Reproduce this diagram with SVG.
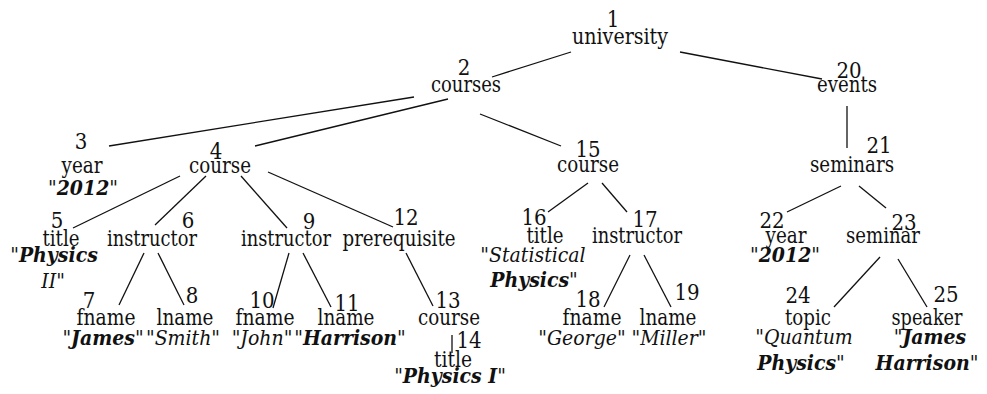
<svg xmlns="http://www.w3.org/2000/svg" width="987" height="394" viewBox="0 0 987 394">
<style>
text{font-family:"DejaVu Serif Condensed","DejaVu Serif",serif;font-stretch:condensed;font-size:22px;fill:#111;text-anchor:middle}
text.m{font-size:21px}
.i{font-style:italic}
.b{font-style:italic;font-weight:bold}
.e line{stroke:#111;stroke-width:1.3}
</style>
<rect width="987" height="394" fill="#fff"/>
<g class="e" id="edges">
<line x1="571" y1="52" x2="492" y2="77"/>
<line x1="680" y1="52" x2="822" y2="79"/>
<line x1="414" y1="97" x2="109" y2="146"/>
<line x1="448" y1="99" x2="255" y2="146"/>
<line x1="480" y1="114" x2="561" y2="146"/>
<line x1="847" y1="106" x2="847" y2="148"/>
<line x1="180" y1="176" x2="73" y2="228"/>
<line x1="206" y1="176" x2="155" y2="225"/>
<line x1="241" y1="176" x2="287" y2="228"/>
<line x1="268" y1="172" x2="393" y2="227"/>
<line x1="144" y1="253" x2="119" y2="305"/>
<line x1="158" y1="253" x2="184" y2="305"/>
<line x1="289" y1="253" x2="273" y2="308"/>
<line x1="303" y1="253" x2="331" y2="307"/>
<line x1="406" y1="253" x2="433" y2="306"/>
<line x1="452" y1="335" x2="452" y2="353"/>
<line x1="588" y1="183" x2="548" y2="212"/>
<line x1="602" y1="183" x2="627" y2="212"/>
<line x1="630" y1="255" x2="604" y2="307"/>
<line x1="644" y1="255" x2="671" y2="307"/>
<line x1="841" y1="186" x2="787" y2="212"/>
<line x1="859" y1="186" x2="886" y2="208"/>
<line x1="880" y1="257" x2="834" y2="307"/>
<line x1="898" y1="259" x2="927" y2="307"/>
</g>
<g id="n1"><text x="613" y="27">1</text><text x="620" y="44" textLength="96" lengthAdjust="spacingAndGlyphs">university</text></g>
<g id="n2"><text x="464" y="75">2</text><text x="466" y="92" textLength="70" lengthAdjust="spacingAndGlyphs">courses</text></g>
<g id="n20"><text x="849" y="78">20</text><text x="847" y="92" textLength="60" lengthAdjust="spacingAndGlyphs">events</text></g>
<g id="n21"><text x="879" y="153">21</text><text x="852" y="172" textLength="84" lengthAdjust="spacingAndGlyphs">seminars</text></g>
<g id="n3"><text x="81" y="149">3</text><text x="82" y="173" textLength="41" lengthAdjust="spacingAndGlyphs">year</text><text class="m" x="83" y="195">"<tspan class="b">2012</tspan>"</text></g>
<g id="n4"><text x="216" y="159">4</text><text x="220" y="173" textLength="62" lengthAdjust="spacingAndGlyphs">course</text></g>
<g id="n15"><text x="588" y="157">15</text><text x="588" y="172" textLength="62" lengthAdjust="spacingAndGlyphs">course</text></g>
<g id="n5"><text x="57" y="228">5</text><text x="61" y="246" textLength="37" lengthAdjust="spacingAndGlyphs">title</text><text class="m" x="54" y="262">"<tspan class="b">Physics</tspan></text><text class="m" x="53" y="288"><tspan class="i">II</tspan>"</text></g>
<g id="n6"><text x="188" y="228">6</text><text x="152" y="246" textLength="90" lengthAdjust="spacingAndGlyphs">instructor</text></g>
<g id="n9"><text x="309" y="229">9</text><text x="286" y="246" textLength="90" lengthAdjust="spacingAndGlyphs">instructor</text></g>
<g id="n12"><text x="406" y="225">12</text><text x="399" y="246" textLength="113" lengthAdjust="spacingAndGlyphs">prerequisite</text></g>
<g id="n7"><text x="89" y="308">7</text><text x="106" y="325" textLength="59" lengthAdjust="spacingAndGlyphs">fname</text><text class="m" x="103" y="345">"<tspan class="b">James</tspan>"</text></g>
<g id="n8"><text x="192" y="303">8</text><text x="185" y="325" textLength="57" lengthAdjust="spacingAndGlyphs">lname</text><text class="m" x="183" y="345">"<tspan class="i">Smith</tspan>"</text></g>
<g id="n10"><text x="262" y="308">10</text><text x="265" y="325" textLength="59" lengthAdjust="spacingAndGlyphs">fname</text><text class="m" x="262" y="345">"<tspan class="i">John</tspan>"</text></g>
<g id="n11"><text x="347" y="311">11</text><text x="346" y="325" textLength="57" lengthAdjust="spacingAndGlyphs">lname</text><text class="m" x="350" y="345">"<tspan class="b">Harrison</tspan>"</text></g>
<g id="n13"><text x="448" y="308">13</text><text x="449" y="325" textLength="62" lengthAdjust="spacingAndGlyphs">course</text></g>
<g id="n14"><text x="469" y="348">14</text><text x="453" y="367" textLength="38" lengthAdjust="spacingAndGlyphs">title</text><text class="m" x="450" y="383">"<tspan class="b">Physics I</tspan>"</text></g>
<g id="n16"><text x="534" y="225">16</text><text x="545" y="243" textLength="37" lengthAdjust="spacingAndGlyphs">title</text><text class="m" x="533" y="262">"<tspan class="i">Statistical</tspan></text><text class="m" x="534" y="287"><tspan class="b">Physics</tspan>"</text></g>
<g id="n17"><text x="645" y="227">17</text><text x="637" y="243" textLength="90" lengthAdjust="spacingAndGlyphs">instructor</text></g>
<g id="n18"><text x="588" y="307">18</text><text x="592" y="325" textLength="59" lengthAdjust="spacingAndGlyphs">fname</text><text class="m" x="582" y="345">"<tspan class="i">George</tspan>"</text></g>
<g id="n19"><text x="687" y="300">19</text><text x="668" y="325" textLength="57" lengthAdjust="spacingAndGlyphs">lname</text><text class="m" x="669" y="345">"<tspan class="i">Miller</tspan>"</text></g>
<g id="n22"><text x="772" y="228">22</text><text x="786" y="243" textLength="41" lengthAdjust="spacingAndGlyphs">year</text><text class="m" x="785" y="262">"<tspan class="b">2012</tspan>"</text></g>
<g id="n23"><text x="904" y="230">23</text><text x="883" y="243" textLength="74" lengthAdjust="spacingAndGlyphs">seminar</text></g>
<g id="n24"><text x="798" y="303">24</text><text x="808" y="325" textLength="46" lengthAdjust="spacingAndGlyphs">topic</text><text class="m" x="804" y="344">"<tspan class="i">Quantum</tspan></text><text class="m" x="801" y="370"><tspan class="b">Physics</tspan>"</text></g>
<g id="n25"><text x="946" y="302">25</text><text x="927" y="325" textLength="71" lengthAdjust="spacingAndGlyphs">speaker</text><text class="m" x="930" y="344">"<tspan class="b">James</tspan></text><text class="m" x="927" y="370"><tspan class="b">Harrison</tspan>"</text></g>
</svg>
